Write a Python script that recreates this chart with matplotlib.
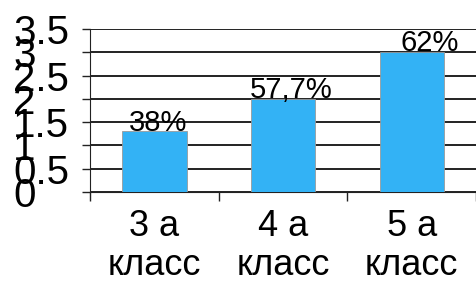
import matplotlib.pyplot as plt

# chart data
categories = ['3 а\nкласс', '4 а\nкласс', '5 а\nкласс']
values = [1.3, 2.0, 3.0]
bar_labels = ['38%', '57,7%', '62%']
y_ticks = [0, 0.5, 1, 1.5, 2, 2.5, 3, 3.5]
y_tick_labels = ['0', '0.5', '1', '1.5', '2', '2.5', '3', '3.5']

plt.rcParams['font.family'] = ['Liberation Sans', 'DejaVu Sans']

fig = plt.figure(figsize=(4.76, 2.86), dpi=100)
ax = fig.add_axes([90 / 476, 1 - 192 / 286, 386 / 476, 163 / 286])

x = list(range(len(categories)))
ax.bar(x, values, width=0.5, color='#33B2F5', edgecolor='#9a9a9a', linewidth=0.6, zorder=3)

# percentage labels sit on top of the bars, nudged right a little
nudge = [0.03, 0.06, 0.14]
for i, (v, lab) in enumerate(zip(values, bar_labels)):
    ax.text(i + nudge[i], v + 0.02, lab, ha='center', va='baseline', fontsize=21, zorder=4)

ax.set_xlim(-0.5, len(categories) - 0.5)
ax.set_ylim(0, 3.5)

# y axis: grid lines, left aligned big labels
ax.set_yticks(y_ticks)
ax.set_yticklabels(y_tick_labels, fontsize=29, ha='left')
ax.tick_params(axis='y', length=5.8, width=1, pad=49.5, color='#222222')
ax.yaxis.grid(True, color='#222222', linewidth=1.4, zorder=0)

# x axis: ticks at category boundaries, labels in between
ax.set_xticks([i - 0.5 for i in range(len(categories) + 1)])
ax.set_xticklabels([])
ax.set_xticks(x, minor=True)
ax.set_xticklabels(categories, minor=True, fontsize=26, linespacing=1.15)
ax.tick_params(axis='x', which='major', length=6.5, width=1, color='#222222')
ax.tick_params(axis='x', which='minor', length=0, pad=12)

for side in ['top', 'right']:
    ax.spines[side].set_visible(False)
ax.spines['left'].set_color('#222222')
ax.spines['bottom'].set_color('#222222')
ax.set_axisbelow(True)

fig.savefig('out.png', dpi=100)
